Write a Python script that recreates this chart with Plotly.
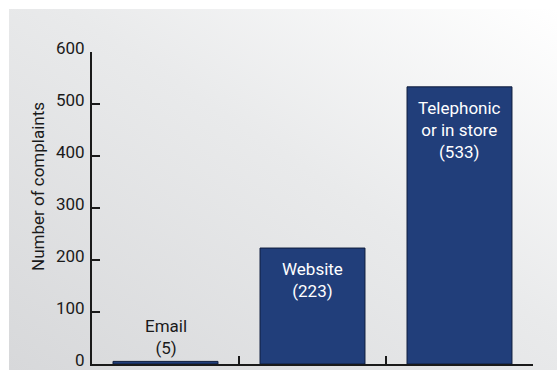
import base64
import plotly.graph_objects as go

categories = ["Email", "Website", "Telephonic or in store"]
values = [5, 223, 533]
bar_labels = ["Email<br>(5)", "Website<br>(223)", "Telephonic<br>or in store<br>(533)"]
y_ticks = [0, 100, 200, 300, 400, 500, 600]
y_title = "Number of complaints"

FONT = "Liberation Sans Narrow, Arial Narrow, Roboto, sans-serif"
FS = 17
BAR = "#213e7a"

svg = ('<svg xmlns="http://www.w3.org/2000/svg" width="548" height="361" preserveAspectRatio="none">'
       '<defs><linearGradient id="g" x1="0" y1="1" x2="1" y2="0">'
       '<stop offset="0" stop-color="#d7d8da"/><stop offset="0.55" stop-color="#e9eaeb"/>'
       '<stop offset="1" stop-color="#ffffff"/></linearGradient></defs>'
       '<rect width="548" height="361" fill="url(#g)"/></svg>')
bg = "data:image/svg+xml;base64," + base64.b64encode(svg.encode()).decode()

fig = go.Figure()
fig.add_trace(go.Bar(
    x=categories, y=values, width=0.714,
    marker=dict(color=BAR, line=dict(color="#0e1c3c", width=1)),
    hoverinfo="skip",
))

for c, v, t in zip(categories, values, bar_labels):
    inside = v > 100
    fig.add_annotation(
        x=c, y=v, text=t, showarrow=False,
        yanchor="top" if inside else "bottom",
        yshift=-9 if inside else 1,
        font=dict(family=FONT, size=FS, color="white" if inside else "#1a1a1a"),
    )

L, R, T, B = 92, 24, 52, 6
W, H = 557, 370
pw, ph = W - L - R, H - T - B
fig.add_layout_image(
    source=bg, xref="paper", yref="paper",
    x=(9 - L) / pw, y=(H - B - 9) / ph,
    sizex=(W - 9) / pw, sizey=(H - 9) / ph,
    xanchor="left", yanchor="top", sizing="stretch", layer="below",
)

fig.add_annotation(
    text=y_title, textangle=-90, showarrow=False,
    xref="paper", yref="paper", x=(38 - L) / pw, y=(H - B - 187) / ph,
    xanchor="center", yanchor="middle",
    font=dict(family=FONT, size=FS, color="#1a1a1a"),
)

fig.update_layout(
    width=W, height=H,
    margin=dict(l=L, r=R, t=T, b=B, autoexpand=False),
    paper_bgcolor="white", plot_bgcolor="rgba(0,0,0,0)",
    showlegend=False,
    font=dict(family=FONT, size=FS, color="#1a1a1a"),
    xaxis=dict(
        range=[-0.5, 2.5], showticklabels=False, tickson="boundaries",
        ticks="inside", ticklen=8, tickwidth=1.5, tickcolor="#1a1a1a",
        showline=True, linecolor="#1a1a1a", linewidth=2, showgrid=False,
        zeroline=False, automargin=False,
    ),
    yaxis=dict(
        range=[0, 600], tickvals=y_ticks, ticks="inside", ticklen=8,
        tickwidth=1.5, tickcolor="#1a1a1a",
        showline=True, linecolor="#1a1a1a", linewidth=2, showgrid=False,
        zeroline=False, ticklabeloverflow="allow", ticklabelshift=-4,
        ticklabelstandoff=2, automargin=False,
    ),
)

fig.write_html("out.html")
